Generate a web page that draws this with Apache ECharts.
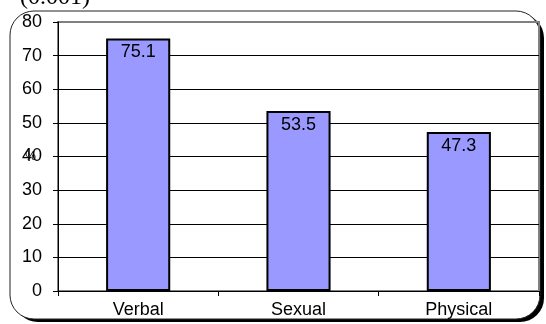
<!DOCTYPE html>
<html>
<head>
<meta charset="utf-8">
<script src="https://cdn.jsdelivr.net/npm/echarts@6/dist/echarts.min.js"></script>
<style>
  html, body { margin: 0; padding: 0; background: #fff; }
  #chart { width: 546px; height: 324px; }
</style>
</head>
<body>
<div id="chart"></div>
<script>
    // chart data
    var categories = ['Verbal', 'Sexual', 'Physical'];
    var percentValues = [75.1, 53.5, 47.3];
    var yTicks = [0, 10, 20, 30, 40, 50, 60, 70, 80];

    var chart = echarts.init(document.getElementById('chart'));

    var option = {
        animation: false,
        backgroundColor: '#fff',
        textStyle: { fontFamily: 'Liberation Sans, Arial, sans-serif' },
        graphic: [
            {
                // dark drop shadow behind the frame
                type: 'rect',
                z: -11,
                shape: { x: 14, y: 14, width: 530, height: 308, r: 24 },
                style: { fill: '#000' }
            },
            {
                // rounded frame
                type: 'rect',
                z: -10,
                shape: { x: 10, y: 11, width: 530, height: 308, r: 24 },
                style: {
                    fill: '#fff',
                    stroke: '#222',
                    lineWidth: 1
                }
            },
            {
                // clipped caption above the frame
                type: 'text',
                left: 20,
                top: -14,
                z: -5,
                style: {
                    text: '(0.001)',
                    font: '24px "Liberation Serif", "Times New Roman", serif',
                    fill: '#000'
                }
            }
        ],
        grid: {
            left: 58,
            right: 7,
            top: 22,
            bottom: 33,
            show: true,
            borderColor: '#808080',
            borderWidth: 2,
            backgroundColor: 'transparent'
        },
        xAxis: {
            type: 'category',
            data: categories,
            axisLine: { show: true, lineStyle: { color: '#000', width: 1 } },
            axisTick: { show: true, inside: false, length: 5, lineStyle: { color: '#000' } },
            axisLabel: { color: '#000', fontSize: 18, margin: 10 }
        },
        yAxis: {
            type: 'value',
            min: yTicks[0],
            max: yTicks[yTicks.length - 1],
            interval: 10,
            name: '%',
            nameLocation: 'middle',
            nameRotate: 0,
            nameGap: 22,
            nameMoveOverlap: false,
            nameTextStyle: { color: '#000', fontSize: 12, padding: [4, 0, 0, 0] },
            axisLine: { show: true, lineStyle: { color: '#000', width: 1 } },
            axisTick: { show: true, inside: false, length: 5, lineStyle: { color: '#000' } },
            axisLabel: { color: '#000', fontSize: 18, margin: 16 },
            splitLine: {
                show: true,
                showMaxLine: false,
                lineStyle: { color: '#000', width: 1 }
            }
        },
        series: [
            {
                type: 'bar',
                data: percentValues,
                barWidth: '40%',
                itemStyle: {
                    color: '#9999ff',
                    borderColor: '#000',
                    borderWidth: 2
                },
                label: {
                    show: true,
                    position: 'insideTop',
                    distance: 5,
                    color: '#000',
                    fontSize: 18
                }
            }
        ]
    };

    chart.setOption(option);
</script>
</body>
</html>
